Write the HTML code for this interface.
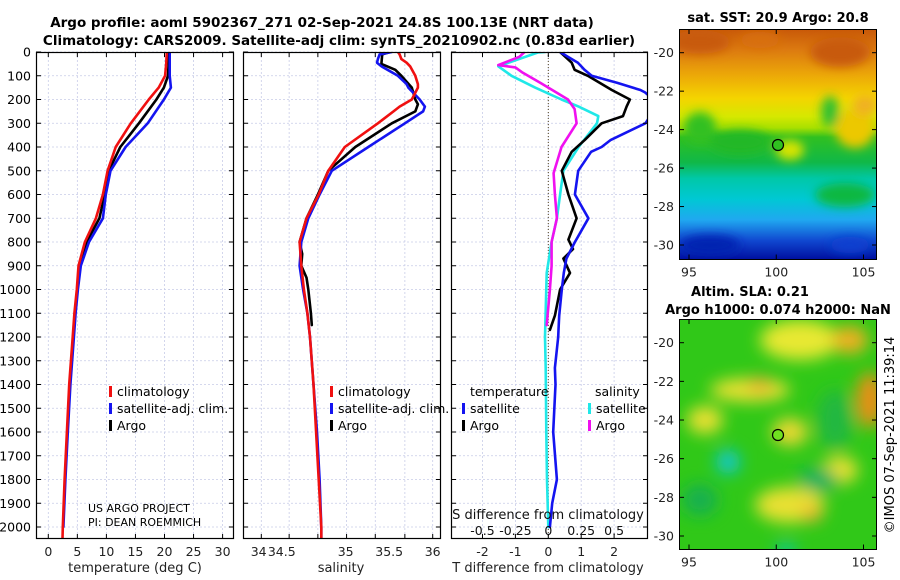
<!DOCTYPE html>
<html><head><meta charset="utf-8">
<style>
html,body{margin:0;padding:0;background:#fff;}
svg{display:block;font-family:"DejaVu Sans","Liberation Sans",sans-serif;}
</style></head>
<body>
<svg id="chart" width="900" height="580" viewBox="0 0 900 580">
<defs>
<filter id="blur1" x="-50%" y="-50%" width="200%" height="200%"><feGaussianBlur stdDeviation="5"/></filter>
<filter id="blur2" x="-50%" y="-50%" width="200%" height="200%"><feGaussianBlur stdDeviation="8"/></filter>
<clipPath id="cp1"><rect x="36" y="52" width="198" height="487"/></clipPath>
<clipPath id="cp2"><rect x="243" y="52" width="198" height="487"/></clipPath>
<clipPath id="cp3"><rect x="451" y="52" width="197" height="487"/></clipPath>
<clipPath id="cm1"><rect x="679" y="29" width="198" height="230"/></clipPath>
<clipPath id="cm2"><rect x="679" y="319" width="198" height="230"/></clipPath>
<linearGradient id="sstg" x1="0" y1="0" x2="0" y2="1">
<stop offset="0" stop-color="#c85808"/><stop offset="0.09" stop-color="#dc7a10"/>
<stop offset="0.2" stop-color="#eca808"/><stop offset="0.3" stop-color="#f4d400"/>
<stop offset="0.38" stop-color="#d6e800"/><stop offset="0.43" stop-color="#a8e000"/>
<stop offset="0.47" stop-color="#30c020"/><stop offset="0.58" stop-color="#10b848"/>
<stop offset="0.65" stop-color="#00c8a8"/><stop offset="0.74" stop-color="#00c8d4"/>
<stop offset="0.83" stop-color="#20a8f0"/><stop offset="0.92" stop-color="#1048d0"/>
<stop offset="1" stop-color="#0010a0"/>
</linearGradient>
</defs>

<g font-weight="bold" font-size="13.5" text-anchor="middle" fill="#000">
<text x="322" y="27">Argo profile: aoml 5902367_271 02-Sep-2021 24.8S 100.13E (NRT data)</text>
<text x="339" y="45">Climatology: CARS2009. Satellite-adj clim: synTS_20210902.nc (0.83d earlier)</text>
</g>

<g id="p1"></g>
<g id="p2"></g>
<g id="p3"></g>

<g>
<text x="778" y="22" font-size="13" font-weight="bold" text-anchor="middle">sat. SST: 20.9 Argo: 20.8</text>
<g clip-path="url(#cm1)">
<rect x="679" y="29" width="198" height="230" fill="url(#sstg)"/>
<g filter="url(#blur1)">
<ellipse cx="700" cy="42" rx="30" ry="12" fill="#c85a08"/>
<ellipse cx="840" cy="52" rx="30" ry="15" fill="#c85a08"/>
<ellipse cx="760" cy="40" rx="20" ry="8" fill="#d87010"/>
<ellipse cx="700" cy="128" rx="16" ry="16" fill="#30c020"/>
<ellipse cx="855" cy="128" rx="20" ry="20" fill="#ecc800"/>
<ellipse cx="865" cy="105" rx="12" ry="10" fill="#f0b020"/>
<ellipse cx="830" cy="112" rx="9" ry="16" fill="#30c030"/>
<ellipse cx="790" cy="150" rx="14" ry="10" fill="#d8e400"/>
<ellipse cx="740" cy="142" rx="30" ry="12" fill="#20b828"/>
<ellipse cx="845" cy="195" rx="30" ry="12" fill="#10b840"/>
<ellipse cx="850" cy="245" rx="20" ry="8" fill="#1040d0"/>
<ellipse cx="710" cy="245" rx="30" ry="10" fill="#0020b0"/>
</g>
</g>
<rect x="679.5" y="29.5" width="197" height="230" fill="none" stroke="#000"/>
<circle cx="778" cy="145" r="5.5" fill="#30c020" stroke="#000" stroke-width="1.2"/>
<g id="m1ax"></g>
</g>

<g>
<text x="750" y="296" font-size="13" font-weight="bold" text-anchor="middle">Altim. SLA: 0.21</text>
<text x="778" y="314" font-size="13" font-weight="bold" text-anchor="middle">Argo h1000: 0.074 h2000: NaN</text>
<g clip-path="url(#cm2)">
<rect x="679" y="319" width="198" height="230" fill="#30c818"/>
<g filter="url(#blur2)">
<ellipse cx="800" cy="340" rx="40" ry="20" fill="#e8e830"/>
<ellipse cx="850" cy="340" rx="18" ry="14" fill="#f0b020"/>
<ellipse cx="870" cy="400" rx="14" ry="28" fill="#e89018"/>
<ellipse cx="750" cy="390" rx="40" ry="12" fill="#e8e030"/>
<ellipse cx="760" cy="385" rx="12" ry="8" fill="#f0b030"/>
<ellipse cx="705" cy="420" rx="18" ry="14" fill="#e8e030"/>
<ellipse cx="790" cy="432" rx="18" ry="14" fill="#e8d830"/>
<ellipse cx="840" cy="470" rx="18" ry="14" fill="#e8e030"/>
<ellipse cx="790" cy="505" rx="35" ry="18" fill="#e8e030"/>
<ellipse cx="812" cy="514" rx="10" ry="8" fill="#f0b030"/>
<ellipse cx="728" cy="462" rx="12" ry="12" fill="#10c8d0"/>
<ellipse cx="818" cy="480" rx="20" ry="12" fill="#10b060"/>
<ellipse cx="700" cy="500" rx="18" ry="16" fill="#18b050"/>
<ellipse cx="786" cy="550" rx="10" ry="6" fill="#10c8c8"/>
<ellipse cx="835" cy="420" rx="18" ry="30" fill="#20b840"/>
</g>
</g>
<rect x="679.5" y="319.5" width="197" height="230" fill="none" stroke="#000"/>
<circle cx="778" cy="435" r="5.5" fill="#70e020" stroke="#000" stroke-width="1.2"/>
<g id="m2ax"></g>
</g>
<text transform="translate(894,435) rotate(-90)" font-size="13" text-anchor="middle">©IMOS 07-Sep-2021 11:39:14</text>
</svg>

<script>
// ---------- data ----------
const depthT = [0,50,100,150,200,300,400,500,600,700,800,900,1000,1100,1200,1400,1600,1800,2000,2050];
const tempClim = [20.4,20.3,20.1,19.0,17.3,14.2,11.6,10.2,9.4,8.2,6.3,5.2,4.9,4.5,4.2,3.6,3.2,2.8,2.5,2.45];
const depthTSat = [0,50,100,150,200,300,400,500,600,700,800,900,1000,1100,1200,1400,1600,1800,2000];
const tempSat = [20.9,20.9,20.9,21.1,19.9,17.1,13.3,10.7,9.9,9.4,7.0,5.6,5.1,4.7,4.4,3.8,3.35,2.95,2.6];
const depthArgo = [0,50,100,150,200,300,400,500,600,700,800,900,1000,1100,1150];
const tempArgo = [20.7,20.7,20.6,19.9,18.6,15.6,12.4,10.4,9.7,8.8,6.6,5.4,5.0,4.6,4.4];

const depthS = [0,10,30,45,60,100,135,150,200,230,250,300,400,500,600,700,800,900,1000,1100,1200,1400,1600,1800,2000,2050];
const salClim = [35.60,35.62,35.64,35.70,35.74,35.80,35.83,35.83,35.76,35.62,35.55,35.37,34.99,34.80,34.69,34.55,34.47,34.49,34.52,34.56,34.59,34.63,34.66,34.69,34.72,34.72];
const salSat = [35.53,35.39,35.37,35.36,35.41,35.60,35.70,35.72,35.85,35.91,35.89,35.68,35.26,34.84,34.70,34.57,34.49,34.47,34.51,34.56,34.59,34.63,34.67,34.70,34.72,34.72];
const depthSArgo = [0,10,50,75,100,150,200,220,250,300,400,500,600,700,800,850,900,950,1000,1100,1150];
const salArgo = [35.51,35.42,35.41,35.57,35.64,35.76,35.80,35.83,35.80,35.53,35.11,34.80,34.68,34.55,34.47,34.50,34.49,34.55,34.57,34.60,34.61];

const depthD = [0,20,45,60,75,100,130,160,170,200,230,270,300,370,400,420,500,600,700,790,800,830,870,900,930,1000,1110,1170,1200,1330,1400,1600,1800,1900,2000];
const dTSat = [0.36,0.6,0.9,1.0,1.1,1.32,2.1,2.8,2.94,3.2,3.3,3.1,2.95,1.9,1.62,1.3,0.91,0.81,1.22,0.85,0.81,0.7,0.55,0.51,0.47,0.41,0.33,0.31,0.3,0.2,0.22,0.15,0.26,0.12,0.05];
const depthDArgo = [0,45,75,100,160,200,230,270,300,370,420,500,600,700,790,830,870,930,1000,1110,1170];
const dTArgo = [0.36,0.71,0.8,1.2,1.93,2.48,2.38,2.27,1.62,1.11,0.71,0.41,0.61,0.86,0.61,0.75,0.46,0.66,0.36,0.2,0.05];
const depthDS = [0,2,60,100,150,200,230,270,300,400,500,600,700,800,930,1200,1330,1600,1800,2000];
const dSSat = [-0.025,-0.08,-0.38,-0.28,-0.10,0.10,0.23,0.38,0.37,0.23,0.115,0.09,0.065,0.025,-0.012,-0.025,-0.02,-0.015,-0.01,0];
const depthDSArgo = [0,20,55,65,85,130,170,200,240,300,400,510,600,700,800,900,1000,1150];
const dSArgo = [-0.18,-0.22,-0.38,-0.25,-0.20,-0.06,0.06,0.15,0.20,0.215,0.10,0.04,0.05,0.065,0.025,0.025,0.012,-0.012];

const depthTicks = [0,100,200,300,400,500,600,700,800,900,1000,1100,1200,1300,1400,1500,1600,1700,1800,1900,2000];
const tempTicks = [0,5,10,15,20,25,30];
const salTickLabels = ["34","34.5","35","35.5","36"];
const salTickVals = [34,34.265,35,35.5,36];
const salGrid = [34.03,34.35,34.68,35.01,35.34,35.68,36.0];
const dTTicks = [-2,-1,0,1,2];
const dSTicks = [-0.5,-0.25,0,0.25,0.5];
const latTicks = [-20,-22,-24,-26,-28,-30];
const lonTicks = [95,100,105];

// ---------- scales ----------
const Y0=52, YB=539;
const yD = d => Y0 + d*0.2375;
const xT = t => 48.3 + t*5.81;
const xS = s => 258.7 + (s-34)*87;
const xDT = v => 548.3 + v*32.9;
const xDS = v => 548.3 + v*131.6;

const NS='http://www.w3.org/2000/svg';
function mk(tag, attrs, parent, txt){
  const e=document.createElementNS(NS,tag);
  for(const k in attrs) e.setAttribute(k,attrs[k]);
  if(txt!==undefined) e.textContent=txt;
  parent.appendChild(e); return e;
}
function line(depths, vals, fx, color, parent, name, w){
  const pts = depths.map((d,i)=>fx(vals[i]).toFixed(1)+','+yD(d).toFixed(1)).join(' ');
  const p = mk('polyline',{points:pts,fill:'none',stroke:color,'stroke-width':w||2.6,'stroke-linejoin':'round','stroke-linecap':'round'},parent);
  
  
  return p;
}
function frame(g,x0,x1,gridX,clip){
  mk('rect',{x:x0,y:Y0,width:x1-x0,height:YB-Y0,fill:'#fff'},g);
  depthTicks.forEach(d=>{
    mk('line',{x1:x0,x2:x1,y1:yD(d),y2:yD(d),stroke:'#c8cce8','stroke-width':0.8,'stroke-dasharray':'2,2'},g);
  });
  gridX.forEach(x=>{
    mk('line',{x1:x,x2:x,y1:Y0,y2:YB,stroke:'#c8cce8','stroke-width':0.8,'stroke-dasharray':'2,2'},g);
  });
  const cg = mk('g',{'clip-path':'url(#'+clip+')'},g);
  return cg;
}
function border(g,x0,x1,gridX){
  depthTicks.forEach(d=>{
    mk('line',{x1:x0,x2:x0+5,y1:yD(d),y2:yD(d),stroke:'#000'},g);
    mk('line',{x1:x1-5,x2:x1,y1:yD(d),y2:yD(d),stroke:'#000'},g);
  });
  gridX.forEach(x=>{
    mk('line',{x1:x,x2:x,y1:YB-5,y2:YB,stroke:'#000'},g);
    mk('line',{x1:x,x2:x,y1:Y0,y2:Y0+5,stroke:'#000'},g);
  });
  const r = mk('rect',{x:x0+0.5,y:Y0+0.5,width:x1-x0-1,height:YB-Y0-1,fill:'none',stroke:'#000','stroke-width':1.2},g);
  
  
}
function legendItem(g,x,y,color,label){
  const it = mk('g',{},g);
  
  
  mk('rect',{x:x,y:y-10,width:3,height:11,fill:color},it);
  mk('text',{x:x+8,y:y,'font-size':12.5},it,label);
}

// ---------- panel 1 ----------
const p1=document.getElementById('p1');
const c1=frame(p1,36,234,tempTicks.map(xT),'cp1');
line(depthArgo,tempArgo,xT,'#000',c1,'argo-temperature-line');
line(depthTSat,tempSat,xT,'#1414f0',c1,'satellite-temperature-line');
line(depthT,tempClim,xT,'#f01010',c1,'climatology-temperature-line');
border(p1,36,234,tempTicks.map(xT));
depthTicks.forEach(d=>{
  const t=mk('text',{x:31,y:yD(d)+4.5,'font-size':12.5,'text-anchor':'end'},p1,String(d));
  
  
});
tempTicks.forEach(v=>{
  const t=mk('text',{x:xT(v),y:556,'font-size':12.5,'text-anchor':'middle',fill:'#222'},p1,String(v));
  
  
});
const xl1=mk('text',{x:135,y:572,'font-size':13,'text-anchor':'middle',fill:'#222'},p1,'temperature (deg C)');


const lg1=mk('g',{},p1);


legendItem(lg1,109,396,'#f01010','climatology');
legendItem(lg1,109,413,'#1414f0','satellite-adj. clim.');
legendItem(lg1,109,430,'#000','Argo');
const cr=mk('g',{'font-size':11},p1);


mk('text',{x:88,y:512},cr,'US ARGO PROJECT');
mk('text',{x:88,y:526},cr,'PI: DEAN ROEMMICH');

// ---------- panel 2 ----------
const p2=document.getElementById('p2');
const c2=frame(p2,243,441,salGrid.map(xS),'cp2');
line(depthSArgo,salArgo,xS,'#000',c2,'argo-salinity-line');
line(depthS,salSat,xS,'#1414f0',c2,'satellite-salinity-line');
line(depthS,salClim,xS,'#f01010',c2,'climatology-salinity-line');
border(p2,243,441,salGrid.map(xS));
salTickVals.forEach((v,i)=>{
  const t=mk('text',{x:xS(v),y:556,'font-size':12.5,'text-anchor':'middle',fill:'#222'},p2,salTickLabels[i]);
  
  
});
const xl2=mk('text',{x:341,y:572,'font-size':13,'text-anchor':'middle',fill:'#222'},p2,'salinity');


const lg2=mk('g',{},p2);


legendItem(lg2,330,396,'#f01010','climatology');
legendItem(lg2,330,413,'#1414f0','satellite-adj. clim.');
legendItem(lg2,330,430,'#000','Argo');

// ---------- panel 3 ----------
const p3=document.getElementById('p3');
const c3=frame(p3,451,648,dTTicks.map(xDT),'cp3');
mk('line',{x1:xDT(0),x2:xDT(0),y1:Y0,y2:YB,stroke:'#554422','stroke-width':1,'stroke-dasharray':'1,2'},c3);
line(depthDS,dSSat,xDS,'#20e8e8',c3,'satellite-salinity-difference-line');
line(depthDSArgo,dSArgo,xDS,'#f010f0',c3,'argo-salinity-difference-line');
line(depthDArgo,dTArgo,xDT,'#000',c3,'argo-temperature-difference-line');
line(depthD,dTSat,xDT,'#1414f0',c3,'satellite-temperature-difference-line');
border(p3,451,648,dTTicks.map(xDT));
dTTicks.forEach(v=>{
  const t=mk('text',{x:xDT(v),y:556,'font-size':12.5,'text-anchor':'middle',fill:'#222'},p3,String(v));
  
  
});
dSTicks.forEach(v=>{
  const t=mk('text',{x:xDS(v),y:535,'font-size':12.5,'text-anchor':'middle',fill:'#111'},p3,String(v));
  
  
});
const sl=mk('text',{x:548,y:519,'font-size':13,'text-anchor':'middle',fill:'#111'},p3,'S difference from climatology');


const xl3=mk('text',{x:548,y:572,'font-size':13,'text-anchor':'middle',fill:'#222'},p3,'T difference from climatology');


const lg3=mk('g',{},p3);


mk('text',{x:470,y:396,'font-size':12.5},lg3,'temperature');
mk('text',{x:595,y:396,'font-size':12.5},lg3,'salinity');
legendItem(lg3,462,413,'#1414f0','satellite');
legendItem(lg3,462,430,'#000','Argo');
legendItem(lg3,588,413,'#20e8e8','satellite');
legendItem(lg3,588,430,'#f010f0','Argo');

// ---------- map axes ----------
function mapAxes(id, top, bottom, latY){
  const g=document.getElementById(id);
  latTicks.forEach(l=>{
    const y=latY(l);
    mk('line',{x1:679,x2:684,y1:y,y2:y,stroke:'#000'},g);
    mk('line',{x1:872,x2:877,y1:y,y2:y,stroke:'#000'},g);
    const t=mk('text',{x:674,y:y+4.5,'font-size':12.5,'text-anchor':'end',fill:'#222'},g,String(l));
    
    
  });
  lonTicks.forEach(l=>{
    const x=689+(l-95)*17.45;
    mk('line',{x1:x,x2:x,y1:bottom-5,y2:bottom,stroke:'#000'},g);
    mk('line',{x1:x,x2:x,y1:top,y2:top+5,stroke:'#000'},g);
    const t=mk('text',{x:x,y:bottom+17,'font-size':12.5,'text-anchor':'middle',fill:'#222'},g,String(l));
    
    
  });
}
mapAxes('m1ax',29,259.5,l=>52.7+(-20-l)*19.23);
mapAxes('m2ax',319,549.5,l=>342.7+(-20-l)*19.33);
</script>
</body></html>
